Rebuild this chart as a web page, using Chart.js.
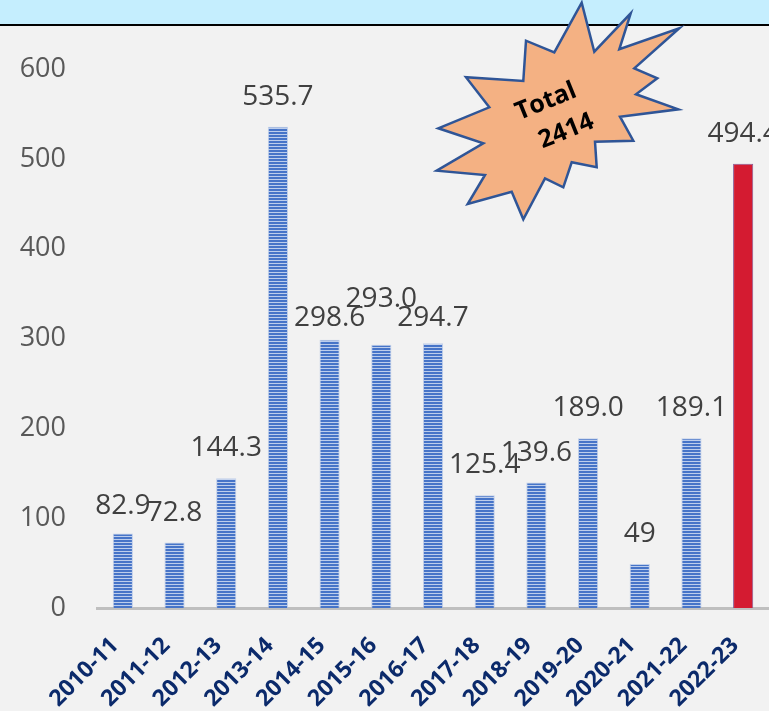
<!DOCTYPE html>
<html>
<head>
<meta charset="utf-8">
<script src="https://cdn.jsdelivr.net/npm/chart.js@4.4.1/dist/chart.umd.min.js"></script>
<style>
  html, body { margin: 0; padding: 0; background: #f2f2f2; }
  #wrap { position: relative; width: 769px; height: 711px; }
  canvas { display: block; }
</style>
</head>
<body>
<div id="wrap"><canvas id="c" width="769" height="711"></canvas></div>
<script>
// ---- data ----
const categories = ['2010-11','2011-12','2012-13','2013-14','2014-15','2015-16','2016-17','2017-18','2018-19','2019-20','2020-21','2021-22','2022-23'];
const values = [82.9, 72.8, 144.3, 535.7, 298.6, 293.0, 294.7, 125.4, 139.6, 189.0, 49, 189.1, 494.4];
const valueText = ['82.9','72.8','144.3','535.7','298.6','293.0','294.7','125.4','139.6','189.0','49','189.1','494.4'];
const yTicks = [0, 100, 200, 300, 400, 500, 600];
const totalText = ['Total', '2414'];

// ---- styling ----
const labelNudge = [3, 0, 0, 0, 8, -16, 5, 0, 0, 0, 0, 0, 0];

function stripePattern() {
  const pc = document.createElement('canvas');
  pc.width = 8; pc.height = 3;
  const p = pc.getContext('2d');
  p.fillStyle = '#4674c8'; p.fillRect(0, 0, 8, 2);
  p.fillStyle = '#bccdec'; p.fillRect(0, 2, 8, 1);
  return document.getElementById('c').getContext('2d').createPattern(pc, 'repeat');
}
const stripes = stripePattern();
const barColors = values.map((v, i) => i === values.length - 1 ? '#d41b31' : stripes);
const barBorders = values.map((v, i) => i === values.length - 1 ? 'rgba(125,75,140,0.9)' : 'rgba(160,185,228,0.6)');

const backgroundPlugin = {
  id: 'bg',
  beforeDraw(chart) {
    const ctx = chart.ctx;
    ctx.save();
    ctx.fillStyle = '#f2f2f2';
    ctx.fillRect(0, 0, chart.width, chart.height);
    ctx.fillStyle = '#c5eefe';
    ctx.fillRect(0, 0, chart.width, 24);
    ctx.fillStyle = '#000000';
    ctx.fillRect(0, 24, chart.width, 2);
    ctx.restore();
  }
};

const labelPlugin = {
  id: 'valueLabels',
  afterDatasetsDraw(chart) {
    const ctx = chart.ctx;
    const meta = chart.getDatasetMeta(0);
    ctx.save();
    ctx.font = '28px "Open Sans"';
    ctx.fillStyle = '#404040';
    ctx.textAlign = 'center';
    ctx.textBaseline = 'middle';
    meta.data.forEach((bar, i) => {
      ctx.fillText(valueText[i], bar.x, bar.y - 30 + labelNudge[i]);
    });
    ctx.restore();
  }
};

const starPlugin = {
  id: 'star',
  afterDraw(chart) {
    const ctx = chart.ctx;
    const pts = [
      [581.7,2.7],[594.3,51.7],[630.7,13.3],[619.3,49.3],[679.3,28.3],[634.3,68.3],
      [657.3,78.3],[636,94.3],[678.3,109.3],[620,116.7],[633.3,140.7],[595,141.7],
      [596.7,167.3],[571.7,162.3],[563.3,187.3],[545,178.3],[523.3,219.3],[511.7,191.7],
      [467.7,204],[485,175],[436.7,170.7],[483.3,143.3],[438.3,128.3],[489.3,107.3],
      [466,77.3],[523.3,81],[526,40.7],[554.3,52.3]
    ];
    ctx.save();
    ctx.beginPath();
    pts.forEach((p, i) => i ? ctx.lineTo(p[0], p[1]) : ctx.moveTo(p[0], p[1]));
    ctx.closePath();
    ctx.fillStyle = '#f4b183';
    ctx.fill();
    ctx.lineWidth = 2.5;
    ctx.lineJoin = 'miter';
    ctx.strokeStyle = '#2f5597';
    ctx.stroke();
    ctx.translate(556, 116);
    ctx.rotate(-22 * Math.PI / 180);
    ctx.fillStyle = '#000000';
    ctx.font = 'bold 25px "Open Sans"';
    ctx.textAlign = 'center';
    ctx.textBaseline = 'middle';
    ctx.fillText(totalText[0], -4, -17);
    ctx.fillText(totalText[1], 4, 18);
    ctx.restore();
  }
};

new Chart(document.getElementById('c'), {
  type: 'bar',
  data: {
    labels: categories,
    datasets: [{
      data: values,
      backgroundColor: barColors,
      borderColor: barBorders,
      borderWidth: 1,
      categoryPercentage: 1,
      barPercentage: 0.39
    }]
  },
  options: {
    responsive: false,
    animation: false,
    devicePixelRatio: 1,
    layout: { padding: { top: 69, left: 0, right: 0, bottom: 0 } },
    plugins: { legend: { display: false }, tooltip: { enabled: false }, title: { display: false } },
    scales: {
      x: {
        grid: { display: false, drawTicks: false },
        border: { display: true, color: '#bfbfbf', width: 3 },
        ticks: {
          color: '#0b2a6b',
          font: { family: '"Open Sans"', size: 23, weight: 'bold' },
          minRotation: 45, maxRotation: 45,
          autoSkip: false,
          padding: 24,
          labelOffset: -8
        },
        afterFit(scale) { scale.height = 103; scale.paddingLeft = 0; scale.paddingRight = 0; }
      },
      y: {
        min: 0, max: 600,
        afterBuildTicks(scale) { scale.ticks = yTicks.map(v => ({ value: v })); },
        grid: { display: false, drawTicks: false },
        border: { display: false },
        ticks: {
          color: '#595959',
          font: { family: '"Open Sans"', size: 27 },
          padding: 31
        },
        afterFit(scale) { scale.width = 97; }
      }
    }
  },
  plugins: [backgroundPlugin, labelPlugin, starPlugin]
});
</script>
</body>
</html>
